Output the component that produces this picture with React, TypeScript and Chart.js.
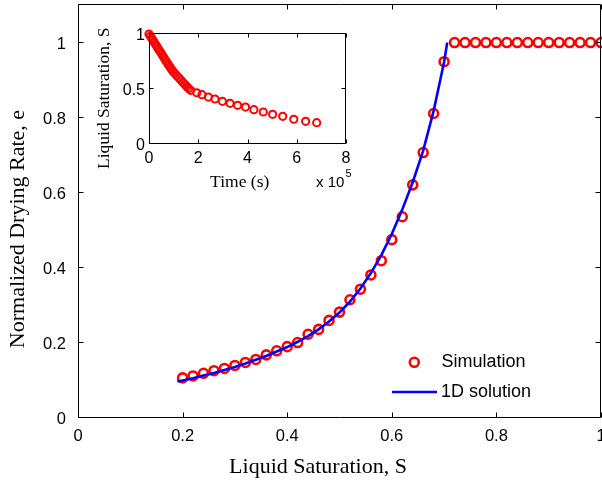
import React, { useEffect, useRef } from 'react';
import { Chart, registerables } from 'chart.js';

Chart.register(...registerables);

// ---------- Main plot data ----------
const simSaturation = [
  0.20, 0.22, 0.24, 0.26, 0.28, 0.30, 0.32, 0.34, 0.36, 0.38, 0.40, 0.42, 0.44,
  0.46, 0.48, 0.50, 0.52, 0.54, 0.56, 0.58, 0.60, 0.62, 0.64, 0.66, 0.68, 0.70,
  0.72, 0.74, 0.76, 0.78, 0.80, 0.82, 0.84, 0.86, 0.88, 0.90, 0.92, 0.94, 0.96, 0.98, 1.00,
];
const simRate = [
  0.107, 0.112, 0.119, 0.126, 0.132, 0.140, 0.148, 0.156, 0.168, 0.179, 0.190, 0.201, 0.223,
  0.236, 0.260, 0.282, 0.315, 0.343, 0.381, 0.419, 0.475, 0.536, 0.621, 0.707, 0.811, 0.949,
  1.0, 1.0, 1.0, 1.0, 1.0, 1.0, 1.0, 1.0, 1.0, 1.0, 1.0, 1.0, 1.0, 1.0, 1.0,
];
const solSaturation = [
  0.19, 0.20, 0.22, 0.24, 0.26, 0.28, 0.30, 0.32, 0.34, 0.36, 0.38, 0.40, 0.42, 0.44,
  0.46, 0.48, 0.50, 0.52, 0.54, 0.56, 0.58, 0.60, 0.62, 0.64, 0.66, 0.68, 0.70, 0.706,
];
const solRate = [
  0.097, 0.100, 0.106, 0.113, 0.120, 0.128, 0.136, 0.145, 0.155, 0.165, 0.177, 0.189, 0.203, 0.218,
  0.236, 0.257, 0.281, 0.310, 0.345, 0.386, 0.434, 0.490, 0.555, 0.628, 0.712, 0.818, 0.948, 1.0,
];
const xTicks = [0, 0.2, 0.4, 0.6, 0.8, 1];
const xTickLabels = ['0', '0.2', '0.4', '0.6', '0.8', '1'];
const yTicks = [0, 0.2, 0.4, 0.6, 0.8, 1];
const yTickLabels = ['0', '0.2', '0.4', '0.6', '0.8', '1'];

// ---------- Inset data (time in units of 1e5 s) ----------
const insetTime = [
  0, 0.056, 0.113, 0.169, 0.225, 0.282, 0.338, 0.394, 0.451, 0.507, 0.563, 0.62, 0.676, 0.732,
  0.789, 0.85, 0.91, 0.98, 1.05, 1.13, 1.22, 1.30, 1.38, 1.46, 1.54, 1.61, 1.69, 1.94, 2.15,
  2.41, 2.68, 2.98, 3.29, 3.60, 3.92, 4.26, 4.64, 5.02, 5.43, 5.88, 6.36, 6.81,
];
const insetSat = [
  1.0, 0.98, 0.96, 0.94, 0.92, 0.90, 0.88, 0.86, 0.84, 0.82, 0.80, 0.78, 0.76, 0.74,
  0.72, 0.70, 0.68, 0.66, 0.64, 0.62, 0.60, 0.58, 0.56, 0.54, 0.52, 0.505, 0.488, 0.466, 0.448,
  0.427, 0.409, 0.388, 0.37, 0.352, 0.336, 0.312, 0.291, 0.27, 0.252, 0.225, 0.206, 0.194,
];
const insetXTicks = [0, 2, 4, 6, 8];
const insetXTickLabels = ['0', '2', '4', '6', '8'];
const insetYTicks = [0, 0.5, 1];
const insetYTickLabels = ['0', '0.5', '1'];

const SANS = '"Liberation Sans", Arial, Helvetica, sans-serif';
const SERIF = '"Liberation Serif", "Times New Roman", serif';
const RED = '#ff0000';
const BLUE = '#0000ff';

type AxisStyle = {
  xt: number[];
  xl: string[];
  yt: number[];
  yl: string[];
  tickLen: number;
  font: string;
  xLabelDrop: number;
  yLabelGap: number;
  yLabelShift: number;
};

function drawAxes(chart: any, st: AxisStyle) {
  const ctx = chart.ctx;
  const { left, right, top, bottom } = chart.chartArea;
  const xs = chart.scales.x;
  const ys = chart.scales.y;
  const L = Math.round(left) + 0.5;
  const R = Math.round(right) - 0.5;
  const T = Math.round(top) - 0.5;
  const B = Math.round(bottom) - 0.5;
  ctx.save();
  ctx.strokeStyle = '#000';
  ctx.lineWidth = 1;
  ctx.beginPath();
  ctx.rect(L, T, R - L, B - T);
  st.xt.forEach((v) => {
    const px = Math.round(xs.getPixelForValue(v)) + 0.5;
    ctx.moveTo(px, B);
    ctx.lineTo(px, B - st.tickLen);
    ctx.moveTo(px, T);
    ctx.lineTo(px, T + st.tickLen);
  });
  st.yt.forEach((v) => {
    const py = Math.round(ys.getPixelForValue(v)) - 0.5;
    ctx.moveTo(L, py);
    ctx.lineTo(L + st.tickLen, py);
    ctx.moveTo(R, py);
    ctx.lineTo(R - st.tickLen, py);
  });
  ctx.stroke();
  ctx.fillStyle = '#000';
  ctx.font = st.font;
  ctx.textBaseline = 'alphabetic';
  ctx.textAlign = 'center';
  st.xt.forEach((v, i) => {
    ctx.fillText(st.xl[i], xs.getPixelForValue(v), bottom + st.xLabelDrop);
  });
  ctx.textAlign = 'right';
  st.yt.forEach((v, i) => {
    ctx.fillText(st.yl[i], left - st.yLabelGap, ys.getPixelForValue(v) + st.yLabelShift);
  });
  ctx.restore();
}

const mainDecor = {
  id: 'mainDecor',
  afterDraw(chart: any) {
    drawAxes(chart, {
      xt: xTicks,
      xl: xTickLabels,
      yt: yTicks,
      yl: yTickLabels,
      tickLen: 5,
      font: `16.5px ${SANS}`,
      xLabelDrop: 23,
      yLabelGap: 12,
      yLabelShift: 6,
    });
    const ctx = chart.ctx;
    ctx.save();
    ctx.fillStyle = '#000';
    ctx.font = `22px ${SERIF}`;
    ctx.textAlign = 'center';
    ctx.textBaseline = 'alphabetic';
    ctx.fillText('Liquid Saturation, S', 318, 473);
    ctx.save();
    ctx.translate(24, 229);
    ctx.rotate(-Math.PI / 2);
    ctx.fillText('Normalized Drying Rate, e', 0, 0);
    ctx.restore();
    // legend
    ctx.strokeStyle = RED;
    ctx.lineWidth = 2.6;
    ctx.beginPath();
    ctx.arc(414.3, 362.3, 4.5, 0, Math.PI * 2);
    ctx.stroke();
    ctx.strokeStyle = BLUE;
    ctx.lineWidth = 2.6;
    ctx.beginPath();
    ctx.moveTo(392, 392);
    ctx.lineTo(437, 392);
    ctx.stroke();
    ctx.font = `18px ${SANS}`;
    ctx.textAlign = 'left';
    ctx.textBaseline = 'middle';
    ctx.fillText('Simulation', 441.5, 362.5);
    ctx.fillText('1D solution', 441, 392.5);
    ctx.restore();
  },
};

const insetDecor = {
  id: 'insetDecor',
  afterDraw(chart: any) {
    drawAxes(chart, {
      xt: insetXTicks,
      xl: insetXTickLabels,
      yt: insetYTicks,
      yl: insetYTickLabels,
      tickLen: 4,
      font: `16px ${SANS}`,
      xLabelDrop: 19,
      yLabelGap: 4,
      yLabelShift: 5.7,
    });
    const ctx = chart.ctx;
    ctx.save();
    ctx.fillStyle = '#000';
    ctx.font = `17.5px ${SERIF}`;
    ctx.textAlign = 'center';
    ctx.textBaseline = 'alphabetic';
    ctx.fillText('Time (s)', 149.7, 166.5);
    ctx.save();
    ctx.translate(18.5, 78.3);
    ctx.rotate(-Math.PI / 2);
    ctx.fillText('Liquid Saturation, S', 0, 0);
    ctx.restore();
    ctx.textAlign = 'left';
    ctx.font = `15px ${SANS}`;
    ctx.fillText('x 10', 226, 166.5);
    ctx.font = `11px ${SANS}`;
    ctx.fillText('5', 255.5, 156.5);
    ctx.restore();
  },
};

function hiddenAxis(min: number, max: number, ticks: number[], fit: (s: any) => void) {
  return {
    type: 'linear',
    min,
    max,
    afterBuildTicks: (s: any) => {
      s.ticks = ticks.map((v) => ({ value: v }));
    },
    afterFit: (s: any) => {
      fit(s);
      s.paddingLeft = 0;
      s.paddingRight = 0;
      s.paddingTop = 0;
      s.paddingBottom = 0;
    },
    grid: { display: false, drawTicks: false },
    border: { display: false },
    ticks: { display: false },
  };
}

export default function App() {
  const mainRef = useRef<HTMLCanvasElement>(null);
  const insetRef = useRef<HTMLCanvasElement>(null);

  useEffect(() => {
    const main = new Chart(mainRef.current as HTMLCanvasElement, {
      type: 'line',
      data: {
        datasets: [
          {
            label: 'Simulation',
            data: simSaturation.map((s, i) => ({ x: s, y: simRate[i] })),
            showLine: false,
            pointStyle: 'circle',
            pointRadius: 4.5,
            pointBorderWidth: 2.6,
            pointBorderColor: RED,
            pointBackgroundColor: 'rgba(0,0,0,0)',
            borderColor: RED,
            backgroundColor: 'rgba(0,0,0,0)',
            clip: false,
            order: 1,
          },
          {
            label: '1D solution',
            data: solSaturation.map((s, i) => ({ x: s, y: solRate[i] })),
            borderColor: BLUE,
            borderWidth: 2.6,
            pointRadius: 0,
            tension: 0,
            fill: false,
            order: 0,
          },
        ],
      },
      options: {
        responsive: false,
        animation: false,
        events: [],
        layout: { autoPadding: false, padding: { left: 0, top: 5, right: 1, bottom: 0 } },
        plugins: { legend: { display: false }, tooltip: { enabled: false } },
        scales: {
          x: hiddenAxis(0, 1, xTicks, (s) => { s.height = 64; }),
          y: hiddenAxis(0, 1.1, yTicks, (s) => { s.width = 78; }),
        },
      },
      plugins: [mainDecor],
    } as any);

    const inset = new Chart(insetRef.current as HTMLCanvasElement, {
      type: 'line',
      data: {
        datasets: [
          {
            label: 'Liquid Saturation',
            data: insetTime.map((t, i) => ({ x: t, y: insetSat[i] })),
            showLine: false,
            pointStyle: 'circle',
            pointRadius: 3.6,
            pointBorderWidth: 2,
            pointBorderColor: RED,
            pointBackgroundColor: 'rgba(0,0,0,0)',
            borderColor: RED,
            clip: false,
          },
        ],
      },
      options: {
        responsive: false,
        animation: false,
        events: [],
        layout: { autoPadding: false, padding: { left: 0, top: 14, right: 14, bottom: 0 } },
        plugins: { legend: { display: false }, tooltip: { enabled: false } },
        scales: {
          x: hiddenAxis(0, 8, insetXTicks, (s) => { s.height = 51; }),
          y: hiddenAxis(0, 1, insetYTicks, (s) => { s.width = 59; }),
        },
      },
      plugins: [insetDecor],
    } as any);

    return () => {
      main.destroy();
      inset.destroy();
    };
  }, []);

  return (
    <div style={{ position: 'fixed', left: 0, top: 0, width: 602, height: 482, background: '#fff', overflow: 'hidden' }}>
      <canvas ref={mainRef} width={602} height={482} style={{ position: 'absolute', left: 0, top: 0 }} />
      <canvas ref={insetRef} width={270} height={175} style={{ position: 'absolute', left: 90, top: 20 }} />
    </div>
  );
}
